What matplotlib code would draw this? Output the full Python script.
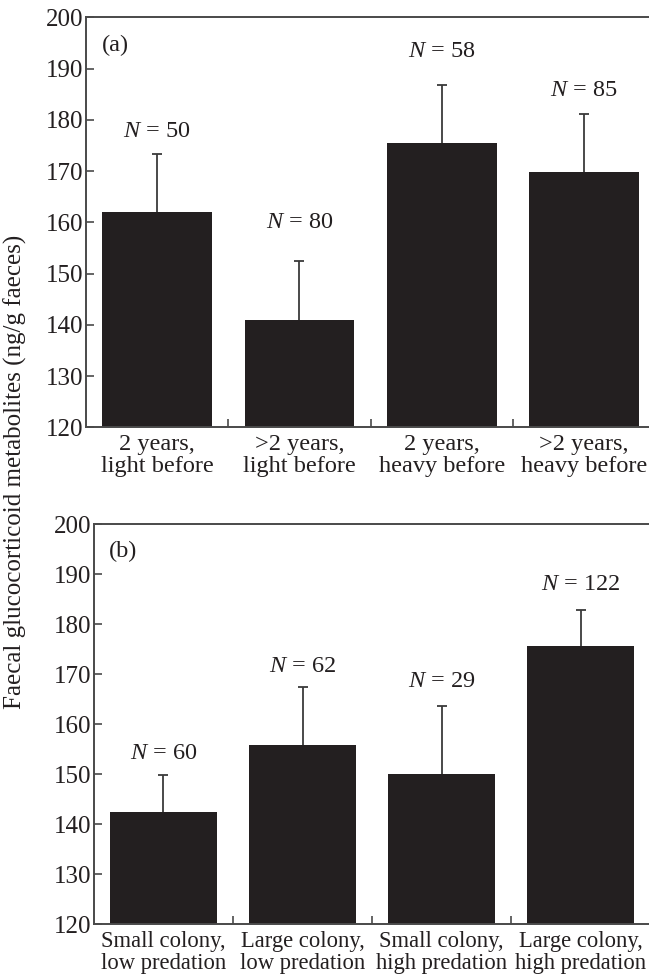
import matplotlib
matplotlib.use("Agg")
import matplotlib.pyplot as plt

# ---- data ----
cats_a = ["2 years,\nlight before", ">2 years,\nlight before",
          "2 years,\nheavy before", ">2 years,\nheavy before"]
means_a = [162.0, 141.0, 175.4, 169.8]
err_a = [11.4, 11.4, 11.4, 11.3]
n_a = [50, 80, 58, 85]

cats_b = ["Small colony,\nlow predation", "Large colony,\nlow predation",
          "Small colony,\nhigh predation", "Large colony,\nhigh predation"]
means_b = [142.4, 155.9, 150.1, 175.7]
err_b = [7.4, 11.5, 13.5, 7.2]
n_b = [60, 62, 29, 122]

yticks = [120, 130, 140, 150, 160, 170, 180, 190, 200]
ylabel = "Faecal glucocorticoid metabolites (ng/g faeces)"

# ---- layout (label heights in data units) ----
label_y_a = [177.7, 159.9, 193.3, 185.8]
label_y_b = [154.2, 171.6, 168.6, 188.0]

plt.rcParams['font.family'] = ['Liberation Serif', 'DejaVu Serif']
plt.rcParams['mathtext.fontset'] = 'custom'
plt.rcParams['mathtext.rm'] = 'Liberation Serif'
plt.rcParams['mathtext.it'] = 'Liberation Serif:italic'
plt.rcParams['text.color'] = '#231f20'
plt.rcParams['xtick.color'] = '#231f20'
plt.rcParams['ytick.color'] = '#231f20'

W, H = 649, 975
fig = plt.figure(figsize=(W / 100, H / 100), dpi=100)

bar_color = "#231f20"
spine_color = "#4a4a4a"
FS = 17.5


def make_panel(rect, cats, means, errs, ns, label_y, tag, xfs):
    ax = fig.add_axes(rect)
    x = list(range(len(cats)))
    ax.bar(x, [m - 120 for m in means], bottom=120, width=0.77,
           color=bar_color, edgecolor='none', zorder=2)
    # symmetric error drawn behind bars: only the upper half is visible
    ax.errorbar(x, means, yerr=errs, fmt='none',
                ecolor="#3a3a3a", elinewidth=1.3, capsize=3.5,
                capthick=1.3, zorder=1)
    for xi, n, ly in zip(x, ns, label_y):
        ax.text(xi, ly, r"$\it{N}$ = %d" % n, ha='center', va='center',
                fontsize=FS)
    ax.set_xlim(-0.5, 3.5)
    ax.set_ylim(120, 200)
    ax.set_yticks(yticks)
    ax.set_yticklabels([str(t) for t in yticks], fontsize=FS + 0.5)
    ax.set_xticks([0.5, 1.5, 2.5])
    ax.set_xticklabels([])
    ax.set_xticks(x, minor=True)
    ax.set_xticklabels(cats, minor=True, fontsize=xfs, linespacing=1.04)
    ax.tick_params(axis='x', which='minor', length=0, pad=5)
    ax.tick_params(axis='x', which='major', direction='in', length=6,
                   width=1.2, color=spine_color)
    ax.tick_params(axis='y', direction='in', length=6, width=1.2,
                   color=spine_color, pad=2)
    for s in ['left', 'bottom', 'top']:
        ax.spines[s].set_color(spine_color)
        ax.spines[s].set_linewidth(1.4)
    ax.spines['right'].set_visible(False)
    ax.text(0.028, 0.931, tag, transform=ax.transAxes, ha='left',
            va='center', fontsize=FS)
    return ax


# panel (a): left 86px, top 17.3px, bottom 427.3px, width 569px
make_panel([86 / W, (H - 427.3) / H, 569.2 / W, 410 / H],
           cats_a, means_a, err_a, n_a, label_y_a, "(a)", 17.5)
# panel (b): left 93.7px, top 524.3px, bottom 924.3px, width 556.8px
make_panel([93.7 / W, (H - 924.3) / H, 556.8 / W, 400 / H],
           cats_b, means_b, err_b, n_b, label_y_b, "(b)", 16.3)

fig.text(15.5 / W, 1 - 472 / H, ylabel, rotation=90, ha='center',
         va='center', fontsize=FS + 0.5)

fig.savefig("out.png", dpi=100)
